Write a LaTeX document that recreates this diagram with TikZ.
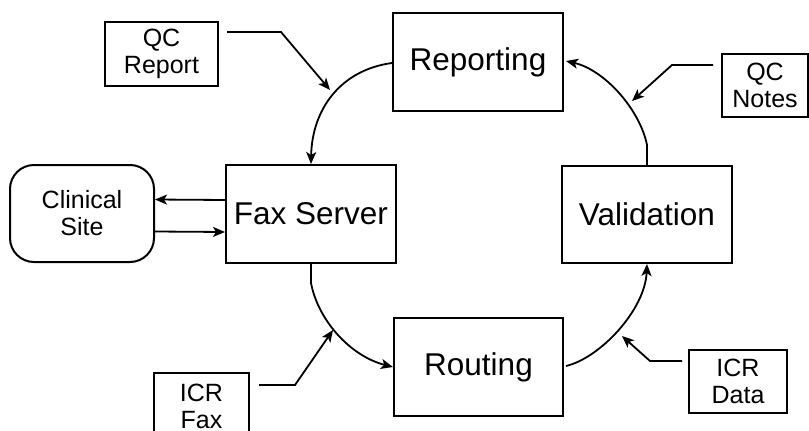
\documentclass[tikz,border=0pt]{standalone}
\usepackage{fontspec}
\setmainfont{Liberation Sans}
\usetikzlibrary{arrows.meta}
\begin{document}
\begin{tikzpicture}[x=1pt,y=-1pt,
  big/.style={draw,line width=2pt,inner sep=0pt,font=\fontsize{31.5}{34}\selectfont,align=center},
  small/.style={draw,line width=2pt,inner sep=0pt,font=\fontsize{25}{27}\selectfont,align=center},
  arr/.style={line width=1.8pt,-{Stealth[length=12pt,width=10pt,inset=3pt]}}]
\useasboundingbox (0,0) rectangle (809,431);
\clip (0,0) rectangle (809,431);
\node[small,minimum width=113pt,minimum height=64pt] (qcr) at (161.5,54) {QC\\Report};
\node[big,minimum width=170pt,minimum height=98pt] (rep) at (478,62) {Reporting};
\node[small,minimum width=86pt,minimum height=63pt] (qcn) at (765,85.5) {QC\\Notes};
\node[small,minimum width=144pt,minimum height=97pt,rounded corners=24pt] (cs) at (82,213.5) {Clinical\\Site};
\node[big,minimum width=170pt,minimum height=98pt] (fax) at (311,214) {Fax Server};
\node[big,minimum width=170pt,minimum height=97pt] (val) at (647,214.5) {Validation};
\node[big,minimum width=169pt,minimum height=98pt] (rou) at (478.5,367) {Routing};
\node[small,minimum width=95pt,minimum height=66pt] (icrf) at (201.5,406) {ICR\\Fax};
\node[small,minimum width=98pt,minimum height=63pt] (icrd) at (738,381.5) {ICR\\Data};
\coordinate (tqr) at (330,90);
\coordinate (tqn) at (632,101);
\coordinate (tif) at (333,330);
\coordinate (tid) at (622,336);
% main cycle
\draw[arr] ([shift={(0,1)}]rep.west) .. controls (340,70) and (312,110) .. (fax.north);
\draw[arr] (fax.south) -- ++(0,19) .. controls (318,320) and (350,356) .. (rou.west);
\draw[arr] ([shift={(2,-1)}]rou.east) .. controls (600,358) and (645,310) .. (val.south);
\draw[arr] (val.north) -- ++(0,-20) .. controls (640,110) and (605,70) .. ([shift={(2,-1)}]rep.east);
% inputs
\draw[arr] ([shift={(8,11)}]qcr.north east) -- ++(54,0) -- (tqr);
\draw[arr] ([shift={(-8,12)}]qcn.north west) -- ++(-41,0) -- (tqn);
\draw[arr] ([shift={(9,13)}]icrf.north east) -- ++(36,0) -- (tif);
\draw[arr] ([shift={(-6,12)}]icrd.north west) -- ++(-32,0) -- (tid);
% clinical site
\draw[arr] ([shift={(0,-14)}]fax.west) -- ([shift={(0,-14)}]cs.east);
\draw[arr] ([shift={(0,18)}]cs.east) -- ([shift={(0,18)}]fax.west);
\end{tikzpicture}
\end{document}
